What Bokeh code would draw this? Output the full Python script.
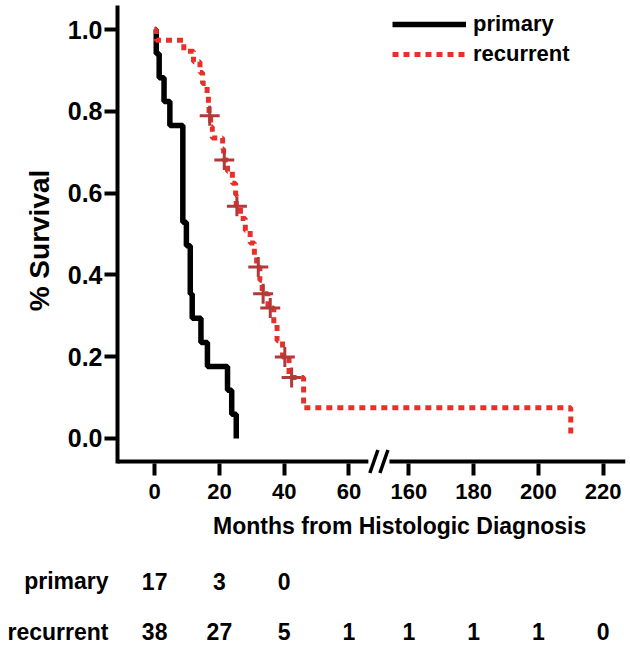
from bokeh.plotting import figure
from bokeh.models import (Range1d, FixedTicker, NumeralTickFormatter,
                          Legend, LegendItem, ColumnDataSource)
from bokeh.layouts import column
from bokeh.embed import file_html
from bokeh.resources import INLINE
from bokeh.core.properties import value

# ---------------- data ----------------
groups = ["primary", "recurrent"]

primary_t = [0, 0.5, 1.4, 2.9, 4.7, 8.7, 9.8, 11.0, 11.6, 14.3, 16.3, 22.5, 23.8, 25.2]
primary_s = [1.0, 0.941, 0.882, 0.824, 0.765, 0.529, 0.471, 0.353, 0.294, 0.235,
             0.176, 0.118, 0.059, 0.0]

recurrent_t = [0, 0.5, 9.0, 12.0, 14.0, 14.8, 16.2, 16.6, 16.8, 17.3, 17.8,
               21.0, 21.3, 22.5, 24.0, 25.0, 25.2, 26.5, 28.0, 29.5, 30.8, 31.5,
               32.5, 33.2, 35.0, 36.8, 37.8, 39.5, 41.5, 46.0, 210.0]
recurrent_s = [1.0, 0.974, 0.947, 0.921, 0.895, 0.868, 0.842, 0.816, 0.789, 0.762, 0.735,
               0.708, 0.681, 0.653, 0.624, 0.596, 0.568, 0.538, 0.508, 0.478, 0.448, 0.419,
               0.387, 0.354, 0.319, 0.279, 0.239, 0.199, 0.149, 0.075, 0.0]

recurrent_censor_t = [17.0, 21.5, 25.4, 32.0, 33.5, 35.7, 40.2, 42.3]
recurrent_censor_s = [0.789, 0.681, 0.568, 0.419, 0.354, 0.319, 0.199, 0.149]

x_tick_months = [0, 20, 40, 60, 160, 180, 200, 220]
y_ticks = [0.0, 0.2, 0.4, 0.6, 0.8, 1.0]

at_risk_primary = [17, 3, 0]
at_risk_recurrent = [38, 27, 5, 1, 1, 1, 1, 0]

x_title = "Months from Histologic Diagnosis"
y_title = "% Survival"

# ---------------- broken axis transform ----------------
BREAK_SHIFT = 81.5          # months removed between 60 and 160


def comp(t):
    return t if t < 100 else t - BREAK_SHIFT


def steps(ts, ss):
    xs, ys = [comp(ts[0])], [ss[0]]
    for i in range(1, len(ts)):
        xs += [comp(ts[i]), comp(ts[i])]
        ys += [ss[i - 1], ss[i]]
    return xs, ys


FONT = "Liberation Sans"
W = 628
LEFT = 117
RIGHT = 3
BLACK = "#000000"
RED = "#e8302a"
DARKRED = "#b03a3a"

X0, X1 = -11.47, 145.4
Y0, Y1 = -0.0905, 1.0587
Y_AXIS = -0.0562            # where the x-axis line sits (data units)
PX_X = 3.225                # pixels per month (for break decoration)
PX_Y = 409.0                # pixels per unit survival

MAIN_H = 510
FRAME_BOTTOM = 475

x_range = Range1d(X0, X1)

p = figure(width=W, height=MAIN_H, x_range=x_range, y_range=Range1d(Y0, Y1),
           output_backend="svg", toolbar_location=None,
           min_border_left=LEFT, min_border_right=RIGHT,
           min_border_top=5, min_border_bottom=MAIN_H - FRAME_BOTTOM)
p.grid.visible = False
p.outline_line_color = None
p.background_fill_color = "white"
p.border_fill_color = "white"

# x axis: ticks and labels from Bokeh, line drawn with the break
xa = p.xaxis[0]
xa.ticker = FixedTicker(ticks=[comp(t) for t in x_tick_months])
xa.major_label_overrides = {comp(t): str(t) for t in x_tick_months}
xa.axis_line_color = None
xa.major_tick_line_width = 4
xa.major_tick_line_color = BLACK
xa.major_tick_out = 0
xa.major_tick_in = 12
xa.minor_tick_out = 0
xa.minor_tick_in = 0
xa.major_label_standoff = 8
xa.major_label_text_font = FONT
xa.major_label_text_font_size = "22px"
xa.major_label_text_font_style = "bold"
xa.major_label_text_color = BLACK

# y axis
ya = p.yaxis[0]
ya.ticker = FixedTicker(ticks=y_ticks)
ya.formatter = NumeralTickFormatter(format="0.0")
ya.bounds = (Y_AXIS - 2.0 / PX_Y, Y1)
ya.axis_line_width = 4
ya.axis_line_color = BLACK
ya.major_tick_line_width = 4
ya.major_tick_line_color = BLACK
ya.major_tick_out = 13
ya.major_tick_in = 0
ya.minor_tick_out = 0
ya.minor_tick_in = 0
ya.major_label_standoff = 2
ya.major_label_text_font = FONT
ya.major_label_text_font_size = "25px"
ya.major_label_text_font_style = "bold"
ya.major_label_text_color = BLACK
ya.axis_label = y_title
ya.axis_label_text_font = FONT
ya.axis_label_text_font_size = "28px"
ya.axis_label_text_font_style = "bold"
ya.axis_label_text_color = BLACK
ya.axis_label_standoff = 10

# x-axis line with a break between 60 and 160
brk_c = (comp(60) + comp(160)) / 2.0
gap = 10.5 / PX_X
p.segment(x0=[X0, brk_c + gap], y0=[Y_AXIS, Y_AXIS], x1=[brk_c - gap, X1], y1=[Y_AXIS, Y_AXIS],
          line_color=BLACK, line_width=4)
sl_dx = 4.0 / PX_X
sl_dy = 11.5 / PX_Y
sl_sep = 5.0 / PX_X
p.segment(x0=[brk_c - sl_sep - sl_dx, brk_c + sl_sep - sl_dx],
          y0=[Y_AXIS - sl_dy, Y_AXIS - sl_dy],
          x1=[brk_c - sl_sep + sl_dx, brk_c + sl_sep + sl_dx],
          y1=[Y_AXIS + sl_dy, Y_AXIS + sl_dy],
          line_color=BLACK, line_width=3.5)

# curves
px, py = steps(primary_t, primary_s)
rx, ry = steps(recurrent_t, recurrent_s)
r_prim = p.line(px, py, line_color=BLACK, line_width=5.5)
r_rec = p.line(rx, ry, line_color=RED, line_width=5, line_dash="6 5")
p.scatter([comp(t) for t in recurrent_censor_t], recurrent_censor_s, marker="cross",
          size=20, line_width=3, line_color=DARKRED)

# legend: (x, y) are the legend's bottom-left, in px from the frame's bottom-left
LEG_TOP = 19
LEG_H = 22 + 4 + 22
legend = Legend(items=[LegendItem(label=groups[0], renderers=[r_prim]),
                       LegendItem(label=groups[1], renderers=[r_rec])],
                location=(275, FRAME_BOTTOM - (LEG_TOP + LEG_H)),
                glyph_width=74, glyph_height=22, label_height=22,
                label_standoff=7, spacing=4, padding=0, margin=0,
                border_line_color=None, background_fill_alpha=0,
                label_text_font=FONT, label_text_font_size="22px",
                label_text_font_style="bold", label_text_color=BLACK)
p.add_layout(legend)

# ---------------- x title + at-risk table ----------------
TABLE_BOTTOM = 646
REC_Y, PRIM_Y, TITLE_Y = 631.0, 580.5, 525.5
ROW_PX = REC_Y - PRIM_Y
t = figure(width=W, height=TABLE_BOTTOM - MAIN_H, x_range=x_range,
           y_range=Range1d(-(TABLE_BOTTOM - REC_Y) / ROW_PX, (REC_Y - MAIN_H) / ROW_PX),
           output_backend="svg", toolbar_location=None,
           min_border_left=LEFT, min_border_right=RIGHT,
           min_border_top=0, min_border_bottom=0)
t.grid.visible = False
t.outline_line_color = None
t.background_fill_color = "white"
t.border_fill_color = "white"
t.xaxis.visible = False
ta = t.yaxis[0]
ta.ticker = FixedTicker(ticks=[0, 1])
ta.major_label_overrides = {0: groups[1], 1: groups[0]}
ta.axis_line_color = None
ta.major_tick_line_color = None
ta.major_tick_out = 0
ta.major_tick_in = 0
ta.minor_tick_out = 0
ta.minor_tick_in = 0
ta.major_label_standoff = 9
ta.major_label_text_font = FONT
ta.major_label_text_font_size = "23px"
ta.major_label_text_font_style = "bold"
ta.major_label_text_color = BLACK

# axis title, centred under the broken axis as in the reference
t.text(x=[(398 - 154) / PX_X], y=[(REC_Y - TITLE_Y) / ROW_PX], text=[x_title],
       text_align="center", text_baseline="middle", text_font=value(FONT),
       text_font_size=value("23px"), text_font_style="bold", text_color=BLACK)

tx, ty, tt = [], [], []
for i, n in enumerate(at_risk_primary):
    tx.append(comp(x_tick_months[i])); ty.append(1); tt.append(str(n))
for i, n in enumerate(at_risk_recurrent):
    tx.append(comp(x_tick_months[i])); ty.append(0); tt.append(str(n))
src = ColumnDataSource(dict(x=tx, y=ty, text=tt))
t.text(x="x", y="y", text="text", source=src, text_align="center",
       text_baseline="middle", text_font=value(FONT), text_font_size=value("23px"),
       text_font_style="bold", text_color=BLACK)

layout = column(p, t, spacing=0)
open("out.html", "w").write(file_html(layout, INLINE))
